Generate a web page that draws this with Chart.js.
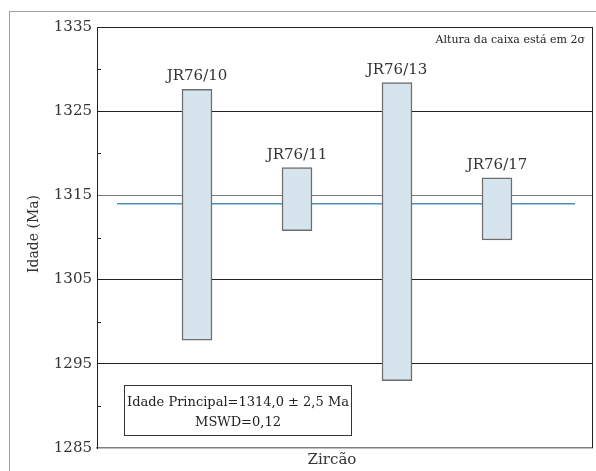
<!DOCTYPE html>
<html>
<head>
<meta charset="utf-8">
<script src="https://cdn.jsdelivr.net/npm/chart.js@4"></script>
<style>
  html, body { margin: 0; padding: 0; background: #fff; }
  canvas { display: block; }
</style>
</head>
<body>
<canvas id="c" width="596" height="471"></canvas>
<script>
// Zircon grains and their 2-sigma age boxes (Ma)
const grains   = ['JR76/10', 'JR76/11', 'JR76/13', 'JR76/17'];
const grainPos = [1, 2, 3, 4];
const ageLow   = [1297.8, 1310.8, 1293.0, 1309.7];
const ageHigh  = [1327.6, 1318.3, 1328.4, 1317.1];

// Weighted mean age and the span of its line along the x axis
const meanAge  = 1314.0;
const meanSpan = [0.2, 4.78];

// Axis ticks
const yTicks     = [1285, 1295, 1305, 1315, 1325, 1335];
const minorTicks = [1290, 1300, 1310, 1320, 1330];

// Text
const summary = ['Idade Principal=1314,0 ± 2,5 Ma', 'MSWD=0,12'];
const note    = 'Altura da caixa está em 2σ';
const xTitle  = 'Zircão';
const yTitle  = 'Idade (Ma)';

const SERIF = '"DejaVu Serif", "Liberation Serif", serif';

const decorations = {
  id: 'decorations',
  beforeDraw(chart) {
    const c = chart.ctx;
    c.save();
    c.strokeStyle = '#a0a0a0';
    c.lineWidth = 1;
    c.strokeRect(9.5, 11.5, 700, 700);
    c.restore();
  },
  afterDraw(chart) {
    const c = chart.ctx;
    const a = chart.chartArea;
    const y = chart.scales.y;
    c.save();

    // right frame of the plot
    c.strokeStyle = '#222';
    c.lineWidth = 1;
    c.beginPath();
    c.moveTo(a.right + 0.5, a.top);
    c.lineTo(a.right + 0.5, a.bottom);
    c.stroke();

    // minor tick marks inside the y axis
    c.beginPath();
    minorTicks.forEach(v => {
      const py = Math.round(y.getPixelForValue(v)) + 0.5;
      c.moveTo(a.left, py);
      c.lineTo(a.left + 4, py);
    });
    c.stroke();

    // grain labels above each box
    const meta = chart.getDatasetMeta(0);
    c.fillStyle = '#333';
    c.font = '15px ' + SERIF;
    c.textAlign = 'center';
    c.textBaseline = 'alphabetic';
    meta.data.forEach((el, i) => {
      const top = Math.min(el.y, el.base);
      c.fillText(grains[i], el.x, top - 9);
    });

    // summary box
    c.strokeStyle = '#333';
    c.lineWidth = 1;
    c.strokeRect(124.5, 385.5, 227, 50);
    c.font = '13px ' + SERIF;
    c.fillStyle = '#222';
    c.textBaseline = 'middle';
    c.fillText(summary[0], 238, 403);
    c.fillText(summary[1], 238, 423);

    // note in the top-right corner
    c.font = '11px ' + SERIF;
    c.textAlign = 'right';
    c.fillText(note, 585, 40);

    // axis titles
    c.font = '15px ' + SERIF;
    c.textAlign = 'center';
    c.fillStyle = '#333';
    c.fillText(xTitle, 332, 460);
    c.translate(34, 234);
    c.rotate(-Math.PI / 2);
    c.font = '14px ' + SERIF;
    c.fillText(yTitle, 0, 0);

    c.restore();
  }
};

new Chart(document.getElementById('c'), {
  type: 'bar',
  data: {
    datasets: [
      {
        type: 'bar',
        data: grains.map((g, i) => ({ x: grainPos[i], y: [ageLow[i], ageHigh[i]] })),
        backgroundColor: '#d6e4ee',
        borderColor: '#6e6e6e',
        borderWidth: 1.5,
        borderSkipped: false,
        barThickness: 30,
        order: 1
      },
      {
        type: 'line',
        data: meanSpan.map(x => ({ x: x, y: meanAge })),
        borderColor: '#4f8fbf',
        borderWidth: 1.5,
        pointRadius: 0,
        order: 2
      }
    ]
  },
  options: {
    responsive: false,
    animation: false,
    layout: { padding: { left: 0, top: 27, right: 4, bottom: 0 } },
    plugins: { legend: { display: false }, tooltip: { enabled: false } },
    scales: {
      x: {
        type: 'linear',
        min: 0,
        max: 4.95,
        offset: false,
        grid: { display: false, drawTicks: false },
        ticks: { display: false },
        border: { color: '#808080', width: 1.5 },
        afterFit(s) { s.height = 23; }
      },
      y: {
        min: 1285,
        max: 1335,
        afterBuildTicks(s) { s.ticks = yTicks.map(v => ({ value: v })); },
        ticks: {
          padding: 5,
          color: '#333',
          font: { family: SERIF, size: 15 },
          callback: v => String(v)
        },
        grid: {
          drawTicks: false,
          color(ctx) {
            const v = ctx.tick && ctx.tick.value;
            if (v === 1285) return 'rgba(0,0,0,0)';
            if (v === 1315) return '#7a7a7a';
            return '#222';
          }
        },
        border: { color: '#222', width: 1 },
        afterFit(s) { s.width = 97; }
      }
    }
  },
  plugins: [decorations]
});
</script>
</body>
</html>
